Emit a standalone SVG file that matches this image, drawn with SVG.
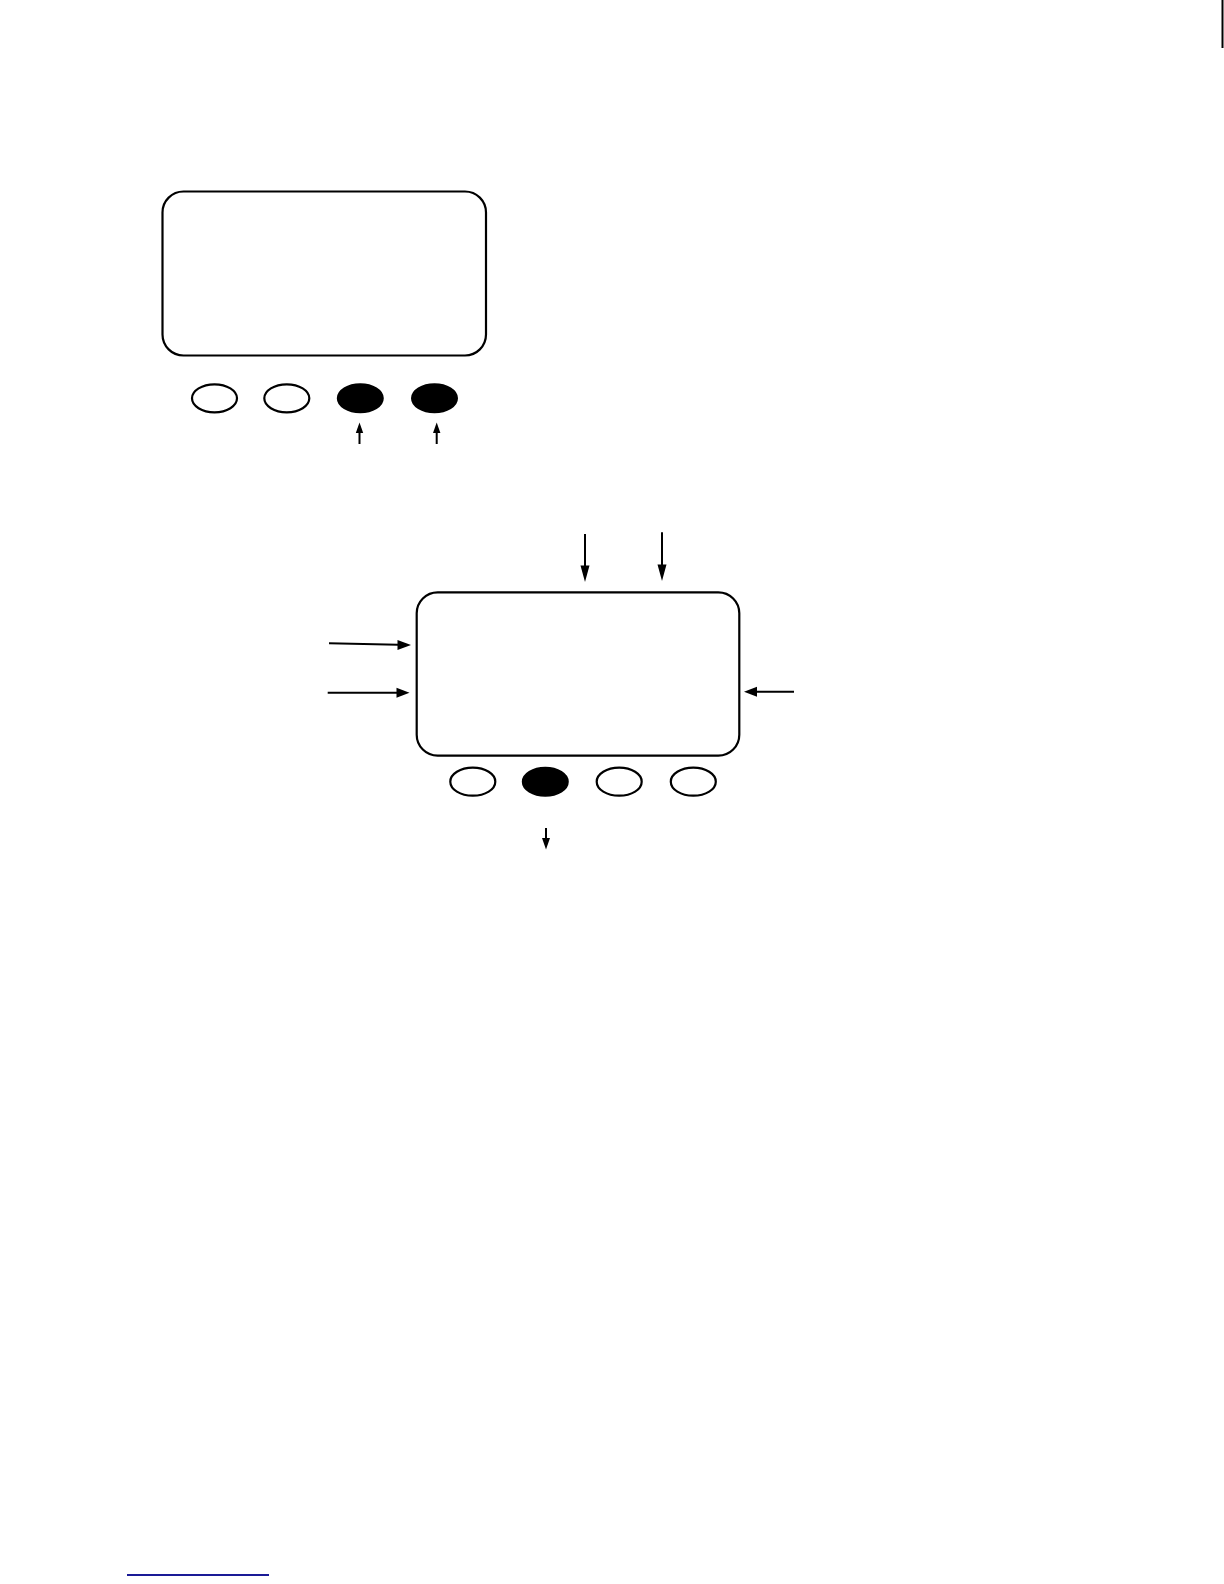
<svg xmlns="http://www.w3.org/2000/svg" width="1224" height="1584" viewBox="0 0 1224 1584">
<style>
.box{fill:#fff;stroke:#000;stroke-width:2.2}
.btn{fill:#fff;stroke:#000;stroke-width:2.2}
.on{fill:#000;stroke:#000;stroke-width:2}
.ln{stroke:#000;stroke-width:2;fill:none}
.hd{fill:#000}
</style>
<rect width="1224" height="1584" fill="#fff"/>
<g id="panel-top">
<rect class="box" x="162.5" y="191.5" width="323.5" height="164" rx="21" ry="21"/>
</g>
<g id="btn-top-1"><ellipse class="btn" cx="214.5" cy="398.3" rx="22.5" ry="14"/></g>
<g id="btn-top-2"><ellipse class="btn" cx="286.8" cy="398.3" rx="22.5" ry="14"/></g>
<g id="btn-top-3"><ellipse class="on" cx="360.3" cy="398.3" rx="22.5" ry="14"/></g>
<g id="btn-top-4"><ellipse class="on" cx="434.5" cy="398.3" rx="22.5" ry="14"/></g>
<g id="panel-bottom">
<rect class="box" x="416.7" y="592.3" width="322.6" height="163.4" rx="21" ry="21"/>
</g>
<g id="btn-bot-1"><ellipse class="btn" cx="472.8" cy="781.7" rx="22.5" ry="14"/></g>
<g id="btn-bot-2"><ellipse class="on" cx="545.3" cy="781.7" rx="22.5" ry="14"/></g>
<g id="btn-bot-3"><ellipse class="btn" cx="619.2" cy="781.7" rx="22.5" ry="14"/></g>
<g id="btn-bot-4"><ellipse class="btn" cx="693.3" cy="781.7" rx="22.5" ry="14"/></g>
<g id="connectors">
<!-- top small up arrows -->
<line class="ln" x1="359.5" y1="444" x2="359.5" y2="430"/>
<polygon class="hd" points="359.5,422.5 355.8,433 363.2,433"/>
<line class="ln" x1="436.7" y1="444" x2="436.7" y2="430"/>
<polygon class="hd" points="436.7,422.5 433,433 440.4,433"/>
<!-- down arrows above bottom panel -->
<line class="ln" x1="585" y1="534" x2="585" y2="568"/>
<polygon class="hd" points="585,582 580.5,565.5 589.5,565.5"/>
<line class="ln" x1="662" y1="532.3" x2="662" y2="567"/>
<polygon class="hd" points="662,581 657.5,564.5 666.5,564.5"/>
<!-- left arrows -->
<line class="ln" x1="329" y1="643.3" x2="398" y2="644.8"/>
<polygon class="hd" points="411,645 397.5,640 397.5,650"/>
<line class="ln" x1="327.7" y1="692.7" x2="397" y2="692.7"/>
<polygon class="hd" points="409.5,692.7 396.5,687.7 396.5,697.7"/>
<!-- right arrow -->
<line class="ln" x1="794" y1="691.7" x2="756" y2="691.7"/>
<polygon class="hd" points="744,691.7 757,686.7 757,696.7"/>
<!-- bottom small down arrow -->
<line class="ln" x1="546" y1="828" x2="546" y2="841"/>
<polygon class="hd" points="546,849.5 542,838 550,838"/>
</g>
<line x1="1222.5" y1="0" x2="1222.5" y2="48" stroke="#000" stroke-width="2"/>
<line x1="127" y1="1575" x2="269" y2="1575" stroke="#1a1a96" stroke-width="2"/>
</svg>
